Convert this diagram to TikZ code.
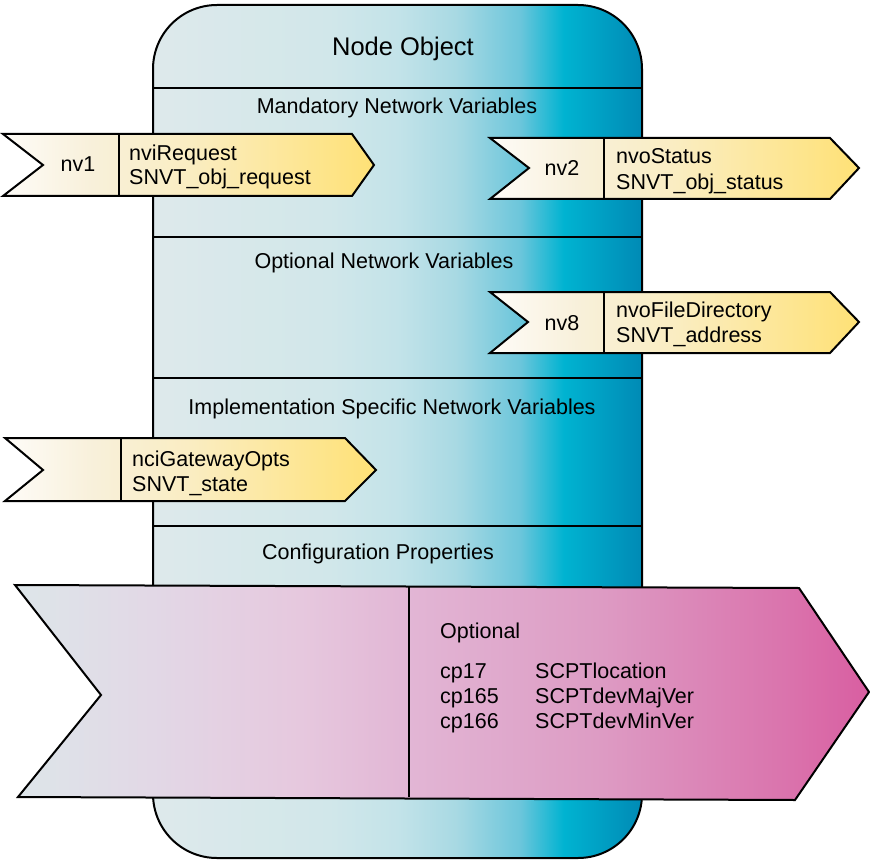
\documentclass[tikz,border=0pt]{standalone}
\usepackage{fontspec}
\setmainfont{Liberation Sans}
\definecolor{m1}{HTML}{DEE9EB}
\definecolor{m2}{HTML}{D1E7EA}
\definecolor{m3}{HTML}{C3E3E9}
\definecolor{m4}{HTML}{A8D9E3}
\definecolor{m5}{HTML}{6CC6DB}
\definecolor{m6}{HTML}{00B3D1}
\definecolor{m7}{HTML}{008AB5}
\definecolor{y1}{HTML}{FEFCF8}
\definecolor{y2}{HTML}{F8F0DA}
\definecolor{y3}{HTML}{FAEDC2}
\definecolor{y4}{HTML}{FDE79A}
\definecolor{y5}{HTML}{FEE176}
\definecolor{p1}{HTML}{DDE6E9}
\definecolor{p2}{HTML}{E2D8E6}
\definecolor{p3}{HTML}{E6C8DE}
\definecolor{p4}{HTML}{E2B6D5}
\definecolor{p5}{HTML}{DD9CC4}
\definecolor{p6}{HTML}{DA74AD}
\definecolor{p7}{HTML}{D95EA1}
\pgfdeclarehorizontalshading{mainsh}{100bp}{color(0bp)=(m1); color(25bp)=(m1); color(43bp)=(m2); color(50bp)=(m3); color(56bp)=(m4); color(62.5bp)=(m5); color(67bp)=(m6); color(75bp)=(m7); color(100bp)=(m7)}
\pgfdeclarehorizontalshading{yelsh}{100bp}{color(0bp)=(y1); color(25bp)=(y1); color(37bp)=(y2); color(50bp)=(y3); color(63bp)=(y4); color(75bp)=(y5); color(100bp)=(y5)}
\pgfdeclarehorizontalshading{pinksh}{100bp}{color(0bp)=(p1); color(25bp)=(p1); color(33bp)=(p2); color(41.7bp)=(p3); color(48bp)=(p4); color(59bp)=(p5); color(70bp)=(p6); color(75bp)=(p7); color(100bp)=(p7)}
\begin{document}
\begin{tikzpicture}[x=1pt,y=-1pt,
  outl/.style={draw=black,line width=2pt,line join=miter},
  sep/.style={draw=black,line width=2pt},
  txt/.style={font=\fontsize{21.5}{25}\selectfont,inner sep=0pt},
  lbl/.style={txt,anchor=base west},
  ctr/.style={txt,anchor=base}]
\useasboundingbox (0,0) rectangle (870,861);
% main node object
\path[outl,shading=mainsh,rounded corners=64pt] (153,5) rectangle (642,858);
\draw[sep] (153,88) -- (642,88);
\draw[sep] (153,237) -- (642,237);
\draw[sep] (153,378) -- (642,378);
\draw[sep] (153,526) -- (642,526);
\node[ctr,font=\fontsize{25.5}{30}\selectfont] (title) at (403,56) {Node Object};
\node[ctr] (mand) at (397,114) {Mandatory Network Variables};
\node[ctr] (opt) at (384,268) {Optional Network Variables};
\node[ctr] (impl) at (392,414) {Implementation Specific Network Variables};
\node[ctr] (conf) at (378,559) {Configuration Properties};
% nv1
\path[outl,shading=yelsh] (3,134) -- (352,134) -- (374,165) -- (352,196) -- (3,196) -- (43,165) -- cycle;
\draw[sep] (119,134) -- (119,196);
\node[ctr] (nv1) at (78,172) {nv1};
\node[lbl] (nvireq) at (129,161) {nviRequest};
\node[lbl] (snvtreq) at (129,185) {SNVT\_obj\_request};
% nv2
\path[outl,shading=yelsh] (490,138) -- (830,138) -- (859,168) -- (830,199) -- (490,199) -- (529,168) -- cycle;
\draw[sep] (604,138) -- (604,199);
\node[ctr] (nv2) at (562,176) {nv2};
\node[lbl] (nvostat) at (616,164) {nvoStatus};
\node[lbl] (snvtstat) at (616,190) {SNVT\_obj\_status};
% nv8
\path[outl,shading=yelsh] (490,292) -- (830,292) -- (859,322) -- (830,353) -- (490,353) -- (528,322) -- cycle;
\draw[sep] (604,292) -- (604,353);
\node[ctr] (nv8) at (562,330) {nv8};
\node[lbl] (nvofile) at (616,317) {nvoFileDirectory};
\node[lbl] (snvtaddr) at (616,342) {SNVT\_address};
% nci
\path[outl,shading=yelsh] (5,438) -- (345,438) -- (376,470) -- (345,501) -- (5,501) -- (43,470) -- cycle;
\draw[sep] (121,438) -- (121,501);
\node[lbl] (ncigw) at (132,466) {nciGatewayOpts};
\node[lbl] (snvtstate) at (132,491) {SNVT\_state};
% configuration properties
\path[outl,shading=pinksh] (15,585) -- (799,588) -- (869,692) -- (795,800) -- (18,797) -- (101,695) -- cycle;
\draw[sep] (409,587) -- (409,797);
\node[lbl] (optl) at (440,638) {Optional};
\node[lbl] (cp17) at (440,678) {cp17};
\node[lbl] (cp165) at (440,703) {cp165};
\node[lbl] (cp166) at (440,728) {cp166};
\node[lbl] (loc) at (535,678) {SCPTlocation};
\node[lbl] (maj) at (535,703) {SCPTdevMajVer};
\node[lbl] (min) at (535,728) {SCPTdevMinVer};
\end{tikzpicture}
\end{document}
